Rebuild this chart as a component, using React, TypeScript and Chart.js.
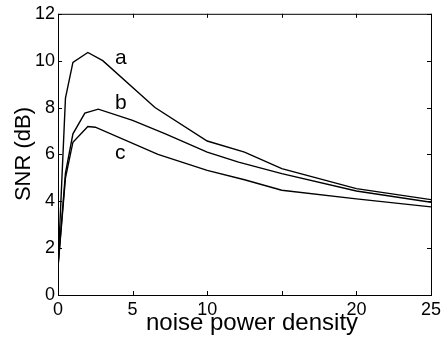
import React, { useEffect, useRef } from "react";
import { Chart, registerables } from "chart.js";

Chart.register(...registerables);

const aX = [0, 0.5, 1, 2, 3, 6.5, 10, 12.5, 15, 20, 25];
const aY = [1.2, 8.4, 9.93, 10.35, 10.0, 8.0, 6.57, 6.1, 5.39, 4.54, 4.07];

const bX = [0, 0.5, 1, 1.8, 2.7, 5, 7.2, 10, 12.1, 15, 20, 25];
const bY = [1.2, 5.2, 6.88, 7.76, 7.93, 7.45, 6.88, 6.1, 5.67, 5.18, 4.44, 3.96];

const cX = [0, 0.5, 1, 2, 2.5, 6.7, 10, 12.5, 15, 20, 25];
const cY = [1.2, 5.0, 6.52, 7.19, 7.16, 6.0, 5.32, 4.92, 4.47, 4.1, 3.76];

const xTicks = [0, 5, 10, 15, 20, 25];
const xTickLabels = ["0", "5", "10", "", "20", "25"];
const yTicks = [0, 2, 4, 6, 8, 10, 12];

const seriesNames = ["a", "b", "c"];
const xTitle = "noise power density";
const yTitle = "SNR (dB)";

const FONT = "'Liberation Sans', Arial, Helvetica, sans-serif";

const zip = (xs: number[], ys: number[]) => xs.map((x, i) => ({ x, y: ys[i] }));

const framePlugin = {
  id: "frame",
  afterDraw(chart: any) {
    const { ctx, chartArea, scales } = chart;
    const { left, right, top, bottom } = chartArea;
    ctx.save();
    ctx.strokeStyle = "#000";
    ctx.lineWidth = 1;
    ctx.strokeRect(left + 0.5, top + 0.5, right - left, bottom - top);
    const tl = 4;
    ctx.beginPath();
    xTicks.forEach((v) => {
      const px = Math.round(scales.x.getPixelForValue(v)) + 0.5;
      ctx.moveTo(px, bottom);
      ctx.lineTo(px, bottom - tl);
      ctx.moveTo(px, top);
      ctx.lineTo(px, top + tl);
    });
    yTicks.forEach((v) => {
      const py = Math.round(scales.y.getPixelForValue(v)) + 0.5;
      ctx.moveTo(left, py);
      ctx.lineTo(left + tl, py);
      ctx.moveTo(right, py);
      ctx.lineTo(right - tl, py);
    });
    ctx.stroke();

    ctx.fillStyle = "#000";
    // curve labels
    ctx.font = `21px ${FONT}`;
    ctx.textAlign = "left";
    ctx.textBaseline = "alphabetic";
    ctx.fillText(seriesNames[0], 115, 64);
    ctx.fillText(seriesNames[1], 115, 109);
    ctx.fillText(seriesNames[2], 115, 159);

    // x title
    ctx.font = `24px ${FONT}`;
    ctx.textAlign = "center";
    ctx.fillText(xTitle, 252, 330);

    // y title
    ctx.save();
    ctx.translate(30, 154);
    ctx.rotate(-Math.PI / 2);
    ctx.font = `22px ${FONT}`;
    ctx.textAlign = "center";
    ctx.fillText(yTitle, 0, 0);
    ctx.restore();
    ctx.restore();
  },
};

export default function App() {
  const ref = useRef<HTMLCanvasElement | null>(null);
  useEffect(() => {
    if (!ref.current) return;
    const line = {
      showLine: true,
      borderColor: "#000",
      borderWidth: 1.4,
      pointRadius: 0,
      fill: false,
      tension: 0,
    };
    const chart = new Chart(ref.current, {
      type: "scatter",
      data: {
        datasets: [
          { label: seriesNames[0], data: zip(aX, aY), ...line },
          { label: seriesNames[1], data: zip(bX, bY), ...line },
          { label: seriesNames[2], data: zip(cX, cY), ...line },
        ],
      },
      options: {
        animation: false,
        responsive: false,
        devicePixelRatio: 1,
        layout: { padding: { top: 13, right: 11, left: 0, bottom: 0 } },
        plugins: { legend: { display: false }, tooltip: { enabled: false } },
        scales: {
          x: {
            type: "linear",
            min: 0,
            max: 25,
            afterBuildTicks: (s: any) => {
              s.ticks = xTicks.map((v) => ({ value: v }));
            },
            afterFit: (s: any) => {
              s.height = 42;
            },
            ticks: {
              autoSkip: false,
              maxRotation: 0,
              padding: 4,
              color: "#000",
              font: { family: FONT, size: 18 },
              callback: (v: any) => xTickLabels[xTicks.indexOf(Number(v))] ?? "",
            },
            grid: { display: false, drawTicks: false },
            border: { display: false },
          },
          y: {
            type: "linear",
            min: 0,
            max: 12,
            afterBuildTicks: (s: any) => {
              s.ticks = yTicks.map((v) => ({ value: v }));
            },
            afterFit: (s: any) => {
              s.width = 58;
            },
            ticks: {
              autoSkip: false,
              padding: 3,
              color: "#000",
              font: { family: FONT, size: 18 },
              callback: (v: any) => String(v),
            },
            grid: { display: false, drawTicks: false },
            border: { display: false },
          },
        },
      },
      plugins: [framePlugin],
    });
    return () => chart.destroy();
  }, []);
  return (
    <div style={{ position: "absolute", left: 0, top: 0, width: 445, height: 337, background: "#fff" }}>
      <canvas ref={ref} width={445} height={337} style={{ display: "block" }} />
    </div>
  );
}
